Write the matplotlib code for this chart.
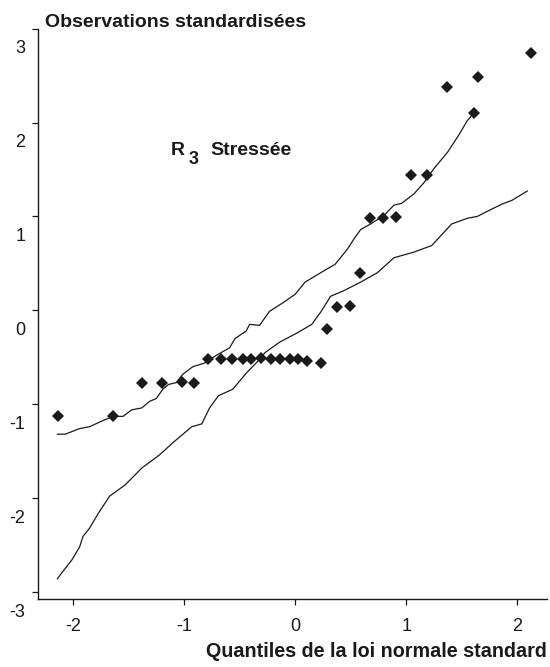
import matplotlib
matplotlib.use('Agg')
import matplotlib.pyplot as plt

# Normal quantiles vs standardised observations
obs_x = [-2.13, -1.64, -1.38, -1.20, -1.02, -0.91, -0.78, -0.67, -0.57, -0.47,
         -0.40, -0.31, -0.22, -0.14, -0.05, 0.03, 0.11, 0.23, 0.29, 0.38,
         0.49, 0.58, 0.67, 0.79, 0.91, 1.04, 1.19, 1.37, 1.61, 1.65, 2.12]
obs_y = [-1.13, -1.13, -0.77, -0.77, -0.76, -0.77, -0.52, -0.52, -0.52, -0.52,
         -0.52, -0.51, -0.52, -0.52, -0.52, -0.52, -0.54, -0.56, -0.20, 0.03,
         0.05, 0.40, 0.98, 0.98, 0.99, 1.44, 1.44, 2.38, 2.10, 2.49, 2.74]

# upper envelope
up_x = [-2.14, -2.07, -1.94, -1.85, -1.74, -1.64, -1.55, -1.47, -1.38, -1.31,
        -1.25, -1.19, -1.14, -1.07, -1.01, -0.92, -0.81, -0.71, -0.59, -0.54,
        -0.44, -0.41, -0.32, -0.23, -0.11, 0.00, 0.09, 0.23, 0.36, 0.47,
        0.53, 0.59, 0.68, 0.80, 0.89, 0.96, 1.07, 1.16, 1.25, 1.37,
        1.47, 1.55, 1.61]
up_y = [-1.32, -1.32, -1.26, -1.24, -1.18, -1.13, -1.13, -1.06, -1.04, -0.97,
        -0.94, -0.84, -0.79, -0.77, -0.68, -0.60, -0.56, -0.48, -0.40, -0.30,
        -0.22, -0.15, -0.16, -0.01, 0.08, 0.17, 0.30, 0.40, 0.49, 0.65,
        0.76, 0.86, 0.92, 1.01, 1.12, 1.14, 1.24, 1.36, 1.51, 1.68,
        1.86, 2.02, 2.10]

# lower envelope
lo_x = [-2.14, -2.09, -2.01, -1.94, -1.91, -1.85, -1.77, -1.67, -1.53, -1.38,
        -1.22, -1.10, -1.01, -0.93, -0.84, -0.77, -0.69, -0.56, -0.44, -0.35,
        -0.27, -0.14, 0.02, 0.15, 0.23, 0.32, 0.44, 0.59, 0.74, 0.89,
        1.07, 1.23, 1.41, 1.55, 1.64, 1.74, 1.86, 1.95, 2.09]
lo_y = [-2.86, -2.78, -2.66, -2.52, -2.41, -2.32, -2.16, -1.98, -1.86, -1.68,
        -1.54, -1.41, -1.32, -1.24, -1.21, -1.04, -0.91, -0.84, -0.67, -0.56,
        -0.45, -0.34, -0.24, -0.15, -0.02, 0.15, 0.21, 0.30, 0.40, 0.56,
        0.62, 0.69, 0.92, 0.98, 1.00, 1.06, 1.13, 1.17, 1.27]

xticks = [-2, -1, 0, 1, 2]
yticks = [3, 2, 1, 0, -1, -2, -3]

plt.rcParams['font.family'] = ['Liberation Sans', 'DejaVu Sans']
ink = '#1a1a1a'

fig = plt.figure(figsize=(5.5, 6.67), dpi=100)
ax = fig.add_axes([0.069, 0.102, 0.926, 0.855])

ax.plot(up_x, up_y, color=ink, lw=0.9)
ax.plot(lo_x, lo_y, color=ink, lw=0.9)
ax.plot(obs_x, obs_y, 'D', color=ink, ms=6.3, mec=ink, mew=0)

ax.set_xlim(-2.315, 2.27)
ax.set_ylim(-3.075, 3.0)

for s in ['top', 'right']:
    ax.spines[s].set_visible(False)
for s in ['left', 'bottom']:
    ax.spines[s].set_color(ink)
    ax.spines[s].set_linewidth(1.0)

ax.set_xticks(xticks)
ax.set_xticklabels([str(t) for t in xticks])
ax.tick_params(axis='x', direction='out', length=4.5, width=0.9, color=ink,
               labelsize=13, pad=9, labelcolor=ink)

# y labels sit a bit below their tick marks, as in the original figure
ax.set_yticks(yticks)
ax.set_yticklabels([''] * len(yticks))
ax.tick_params(axis='y', direction='out', length=4.5, width=0.9, color=ink)
for t in yticks:
    ax.annotate(str(t), xy=(0, t), xycoords=('axes fraction', 'data'),
                xytext=(-9, -14.5), textcoords='offset points',
                ha='right', va='center', fontsize=13, color=ink,
                annotation_clip=False)

fig.text(0.082, 0.966, 'Observations standardisées', fontsize=14,
         fontweight='bold', color=ink, ha='left', va='center')
fig.text(0.995, 0.023, 'Quantiles de la loi normale standard', fontsize=14.2,
         fontweight='bold', color=ink, ha='right', va='center')

# "R 3 Stressée" label, subscript drawn as its own text
ax.annotate('R', xy=(-1.122, 1.70), fontsize=14, fontweight='bold',
            color=ink, ha='left', va='center')
ax.annotate('3', xy=(-1.122, 1.70), xytext=(13, -6),
            textcoords='offset points', fontsize=13, fontweight='bold',
            color=ink, ha='left', va='center')
ax.annotate('Stressée', xy=(-1.122, 1.70), xytext=(29, 0),
            textcoords='offset points', fontsize=14, fontweight='bold',
            color=ink, ha='left', va='center')

fig.savefig('out.png', dpi=100)
